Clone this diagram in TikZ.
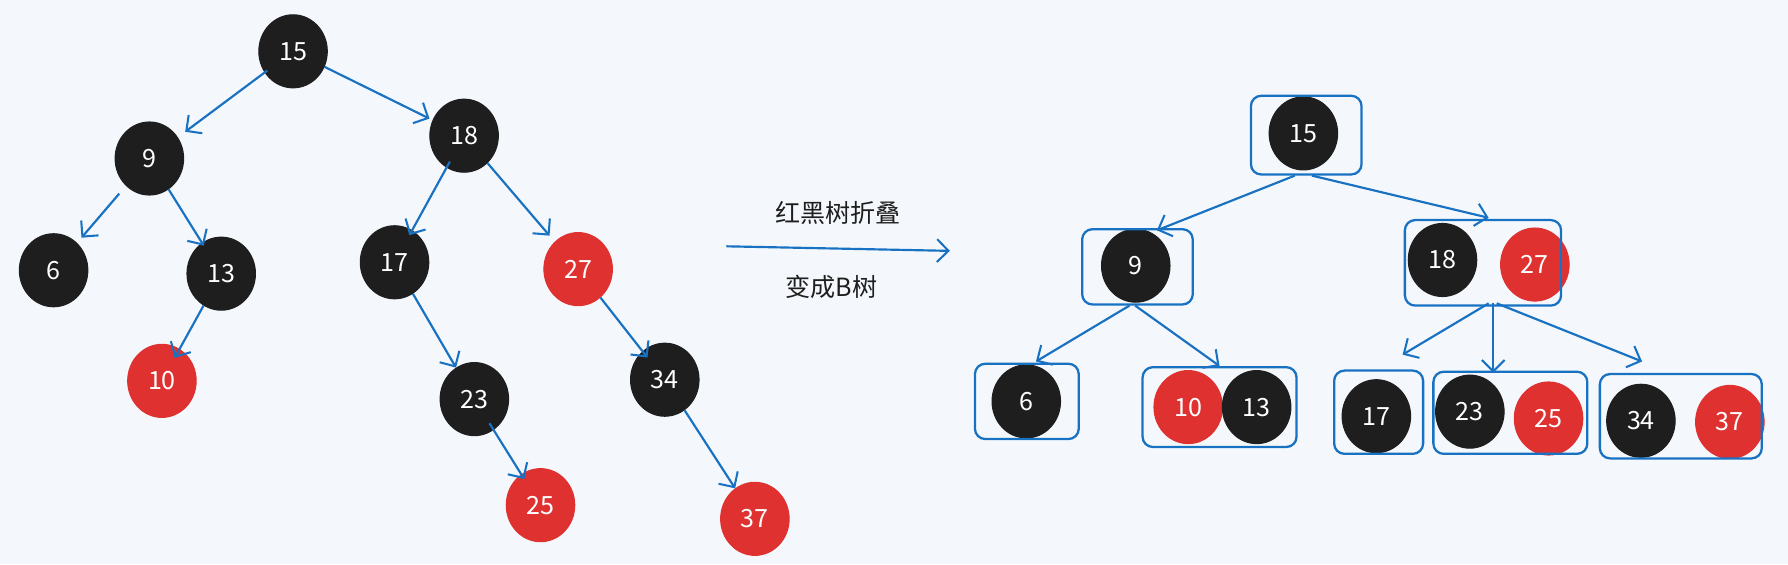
\documentclass[tikz,border=0pt]{standalone}
\usepackage{fontspec}
\setmainfont{Noto Sans CJK SC}
\usetikzlibrary{shapes.geometric,arrows.meta,calc}
\definecolor{bgc}{HTML}{F4F8FC}
\definecolor{ink}{HTML}{1E1E1E}
\definecolor{rd}{HTML}{E03131}
\definecolor{bl}{HTML}{1971C2}
\tikzset{
  bn/.style={ellipse, fill=ink, draw=ink, line width=1pt, minimum width=60pt, minimum height=64pt, inner sep=0pt, text=white, font=\fontsize{22}{22}\selectfont},
  rn/.style={bn, fill=rd, draw=rd},
  bbox/.style={draw=bl, line width=2pt, rounded corners=9pt, inner sep=0pt},
  arr/.style={draw=bl, line width=1.9pt, -{Straight Barb[length=10pt,width=20pt,line width=1.8pt]}},
  lbl/.style={text=ink, font=\fontsize{22}{22}\selectfont}
}
\begin{document}
\begin{tikzpicture}[x=1pt,y=-1pt]
\fill[bgc] (0,0) rectangle (1568,495);
\useasboundingbox (0,0) rectangle (1568,495);
% left tree
\node[bn] (L15) at (257,45) {15};
\node[bn] (L9) at (131,139) {9};
\node[bn] (L18) at (407,119) {18};
\node[bn] (L6) at (47,237) {6};
\node[bn] (L13) at (194,240) {13};
\node[bn] (L17) at (346,230) {17};
\node[rn] (L27) at (507,236) {27};
\node[rn] (L10) at (142,334) {10};
\node[bn] (L23) at (416,350) {23};
\node[bn] (L34) at (583,333) {34};
\node[rn] (L25) at (474,443) {25};
\node[rn] (L37) at (662,455) {37};
\draw[arr, shorten <=-3pt, shorten >=8pt] (L15) -- (L9);
\draw[arr, shorten >=3pt] (L15) -- (L18);
\draw[arr, shorten <=9pt, shorten >=6pt] (L9) -- (L6);
\draw[arr, shorten >=-3pt] (L9) -- (L13);
\draw[arr, shorten <=-6pt, shorten >=-5pt] (L18) -- (L17);
\draw[arr, shorten >=7pt] (L18) -- (L27);
\draw[arr, shorten >=-9pt] (L13) -- (L10);
\draw[arr] (L17) -- (L23);
\draw[arr, shorten >=-7pt] (L27) -- (L34);
\draw[arr, shorten <=-7pt, shorten >=-5pt] (L23) -- (L25);
\draw[arr] (L34) -- (L37);
% middle
\coordinate (MA) at (637,216);
\coordinate (MB) at (833,220);
\draw[arr] (MA) -- (MB);
\node[lbl] (T1) at (735,187) {红黑树折叠};
\node[lbl] (T2) at (729,252) {变成B树};
% right B-tree
\node[bn] (R15) at (1143,117) {15};
\node[bbox, minimum width=97pt, minimum height=69pt] (B15) at (1145.5,118.5) {};
\node[bn] (R9) at (996,233) {9};
\node[bbox, minimum width=97pt, minimum height=66pt] (B9) at (997.5,234) {};
\node[bn] (R18) at (1265,228) {18};
\node[rn] (R27) at (1346,232) {27};
\node[bbox, minimum width=137pt, minimum height=75pt] (B18) at (1300.5,230.5) {};
\node[bn] (R6) at (900,352) {6};
\node[bbox, minimum width=91pt, minimum height=66pt] (B6) at (900.5,352) {};
\node[rn] (R10) at (1042,357) {10};
\node[bn] (R13) at (1102,357) {13};
\node[bbox, minimum width=135pt, minimum height=70pt] (B10) at (1069.5,357) {};
\node[bn] (R17) at (1207,365) {17};
\node[bbox, minimum width=78pt, minimum height=73pt] (B17) at (1209,361.5) {};
\node[bn] (R23) at (1289,361) {23};
\node[rn] (R25) at (1358,367) {25};
\node[bbox, minimum width=135pt, minimum height=72pt] (B23) at (1324.5,362) {};
\node[bn] (R34) at (1439,369) {34};
\node[rn] (R37) at (1517,370) {37};
\node[bbox, minimum width=142pt, minimum height=74pt] (B34) at (1474,365) {};
\draw[arr] ($(B15.south)+(-10,0)$) -- ($(B9.north)+(17,2)$);
\draw[arr] ($(B15.south)+(5,0)$) -- ($(B18.north)+(5,-1)$);
\draw[arr] ($(B9.south)+(-7,0)$) -- ($(B6.north)+(8,-1)$);
\draw[arr] ($(B9.south)+(-2,0)$) -- ($(B10.north)+(0,0)$);
\draw[arr] ($(B18.south)+(5,-3)$) -- ($(B17.north)+(21,-13)$);
\draw[arr] ($(B18.south)+(9,-3)$) -- ($(B23.north)+(-15,2)$);
\draw[arr] ($(B18.south)+(12,-3)$) -- ($(B34.north)+(-34,-10)$);
\end{tikzpicture}
\end{document}
